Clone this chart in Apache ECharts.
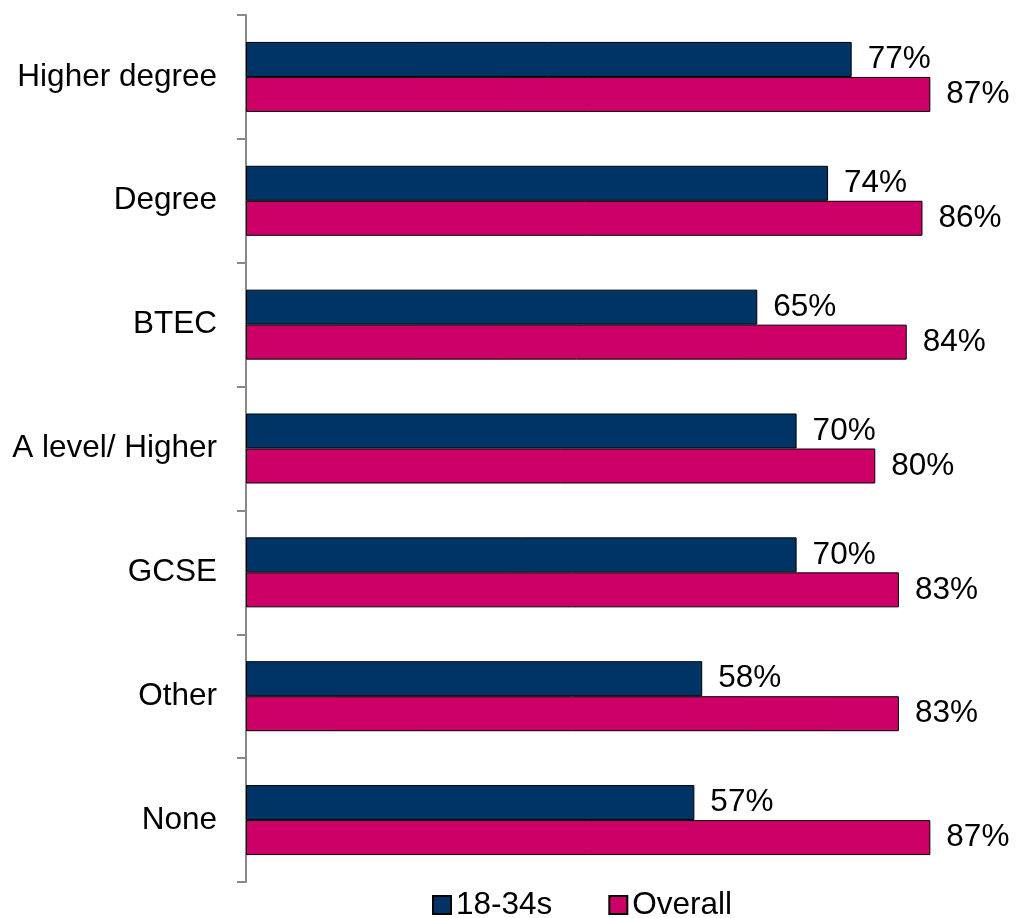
<!DOCTYPE html>
<html>
<head>
<meta charset="utf-8">
<script src="https://cdn.jsdelivr.net/npm/echarts@6/dist/echarts.min.js"></script>
<style>html,body{margin:0;padding:0;background:#fff;}#c{width:1016px;height:918px;}</style>
</head>
<body>
<div id="c"></div>
<script>
var categories = ['Higher degree', 'Degree', 'BTEC', 'A level/ Higher', 'GCSE', 'Other', 'None'];
var young = [77, 74, 65, 70, 70, 58, 57];
var overall = [87, 86, 84, 80, 83, 83, 87];
var seriesNames = ['18-34s', 'Overall'];

var chart = echarts.init(document.getElementById('c'), null, {renderer: 'canvas'});
var font = 'Liberation Sans, Arial, sans-serif';
function mk(name, data, color) {
  return {
    name: name,
    type: 'bar',
    data: data,
    barWidth: 35,
    barGap: '0%',
    itemStyle: {color: color, borderColor: '#000', borderWidth: 1},
    label: {show: true, position: 'right', distance: 16, formatter: '{c}%', color: '#000', fontSize: 31.5, fontFamily: font},
    emphasis: {disabled: true},
    animation: false
  };
}
chart.setOption({
  animation: false,
  grid: {left: 246, top: 15, bottom: 36, width: 763, containLabel: false},
  xAxis: {type: 'value', min: 0, max: 97, show: false},
  yAxis: {
    type: 'category',
    data: categories,
    inverse: true,
    axisLine: {show: true, lineStyle: {color: '#898989', width: 2}},
    axisTick: {show: true, length: 9, lineStyle: {color: '#898989', width: 2}},
    axisLabel: {fontSize: 31.5, color: '#000', fontFamily: font, margin: 29},
    splitLine: {show: false}
  },
  legend: {
    top: 889,
    left: 432,
    padding: 0,
    itemWidth: 18,
    itemHeight: 18,
    itemGap: 56,
    icon: 'rect',
    textStyle: {fontSize: 31.5, color: '#000', fontFamily: font},
    data: seriesNames
  },
  series: [mk(seriesNames[0], young, '#003366'), mk(seriesNames[1], overall, '#CC0066')]
});
</script>
</body>
</html>
